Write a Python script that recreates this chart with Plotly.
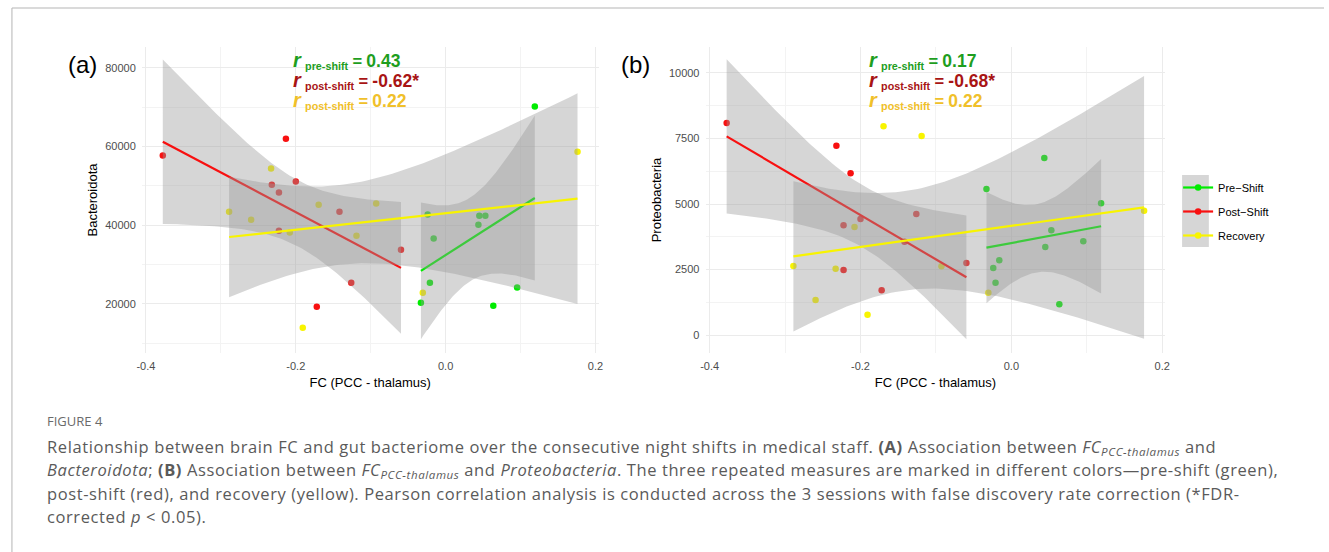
import numpy as np
import plotly.graph_objects as go

W, H = 1329, 552

# ---------------- data ----------------
groups = ["Pre−Shift", "Post−Shift", "Recovery"]
colors = ["#00EC00", "#F81010", "#F8F400"]
label_colors = ["#1E9E1E", "#A81414", "#F0C02A"]
r_names = ["pre-shift", "post-shift", "post-shift"]

# FC (PCC - thalamus): same subjects in both panels
fc_pre = [-0.033, -0.024, -0.021, -0.016, 0.0437, 0.045, 0.053, 0.0636, 0.0954, 0.119]
fc_post = [-0.3775, -0.2132, -0.232, -0.2225, -0.200, -0.1417, -0.2225, -0.172, -0.126, -0.0596]
fc_rec = [-0.289, -0.2596, -0.233, -0.208, -0.1907, -0.1695, -0.119, -0.0927, -0.0305, 0.176]

# panel (a): Bacteroidota
bact_pre = [20250, 42700, 25350, 36600, 40100, 42400, 42400, 19500, 24100, 70200]
bact_post = [57700, 62000, 50300, 48300, 51100, 43400, 38600, 19200, 25350, 33760]
bact_rec = [43400, 41400, 54400, 38100, 13880, 45200, 37300, 45500, 22800, 58700]

# panel (b): Proteobacteria
prot_pre = [5573, 2557, 1996, 2851, 6756, 3359, 3996, 1172, 3576, 5027]
prot_post = [8092, 6172, 7226, 4187, 4428, 3561, 2481, 1706, 4618, 2748]
prot_rec = [2634, 1336, 2531, 4122, 775, 7966, 7596, 2622, 1615, 4745]

r_values_a = ["0.43", "-0.62*", "0.22"]
r_values_b = ["0.17", "-0.68*", "0.22"]

x_ticks = [-0.4, -0.2, 0.0, 0.2]
x_ticktext = ["-0.4", "-0.2", "0.0", "0.2"]
x_minor = [-0.3, -0.1, 0.1]
ya_ticks = [20000, 40000, 60000, 80000]
ya_ticktext = ["20000", "40000", "60000", "80000"]
ya_minor = [10000, 30000, 50000, 70000]
yb_ticks = [0, 2500, 5000, 7500, 10000]
yb_ticktext = ["0", "2500", "5000", "7500", "10000"]
yb_minor = [1250, 3750, 6250, 8750]

# two-sided 95% t quantiles by degrees of freedom
T975 = {6: 2.446912, 7: 2.364624, 8: 2.306004, 9: 2.262157, 10: 2.228139}

FONT = "Liberation Sans, Arial, Helvetica, sans-serif"
CAP_FONT = "Open Sans, Lato, sans-serif"


def fx(px):
    return px / W


def fy(py):
    return 1 - py / H


def lm_band(x, y, npts=80):
    x = np.asarray(x, float)
    y = np.asarray(y, float)
    n = len(x)
    mx, my = x.mean(), y.mean()
    sxx = ((x - mx) ** 2).sum()
    b = ((x - mx) * (y - my)).sum() / sxx
    a = my - b * mx
    resid = y - (a + b * x)
    s = np.sqrt((resid ** 2).sum() / (n - 2))
    xs = np.linspace(x.min(), x.max(), npts)
    yhat = a + b * xs
    se = s * np.sqrt(1.0 / n + (xs - mx) ** 2 / sxx)
    t = T975[n - 2]
    return xs, yhat, yhat - t * se, yhat + t * se


fig = go.Figure()

panels = [
    ("x", "y", [fc_pre, fc_post, fc_rec], [bact_pre, bact_post, bact_rec]),
    ("x2", "y2", [fc_pre, fc_post, fc_rec], [prot_pre, prot_post, prot_rec]),
]

for xa, ya, xs_list, ys_list in panels:
    # points first (ribbons drawn over them, as in ggplot)
    for g, (xv, yv) in enumerate(zip(xs_list, ys_list)):
        fig.add_trace(go.Scatter(x=xv, y=yv, mode="markers", xaxis=xa, yaxis=ya,
                                 marker=dict(color=colors[g], size=6.5),
                                 showlegend=False, hoverinfo="x+y"))
    for g, (xv, yv) in enumerate(zip(xs_list, ys_list)):
        xs, yhat, lo, hi = lm_band(xv, yv)
        fig.add_trace(go.Scatter(x=np.concatenate([xs, xs[::-1]]),
                                 y=np.concatenate([hi, lo[::-1]]),
                                 mode="lines", fill="toself",
                                 fillcolor="rgba(153,153,153,0.4)",
                                 line=dict(width=0), xaxis=xa, yaxis=ya,
                                 showlegend=False, hoverinfo="skip"))
        fig.add_trace(go.Scatter(x=xs, y=yhat, mode="lines", xaxis=xa, yaxis=ya,
                                 line=dict(color=colors[g], width=2.2),
                                 showlegend=False, hoverinfo="skip"))

# legend-only entries
for g in range(3):
    fig.add_trace(go.Scatter(x=[None], y=[None], mode="lines+markers", name=groups[g],
                             legendgroup=groups[g],
                             line=dict(color=colors[g], width=2.2),
                             marker=dict(color=colors[g], size=6.5)))

axis_common = dict(showgrid=True, gridcolor="#EBEBEB", gridwidth=1, zeroline=False,
                   showline=False, ticks="outside", ticklen=3, tickcolor="rgba(0,0,0,0)",
                   tickfont=dict(family=FONT, size=11, color="#4D4D4D"))
minor_common = dict(showgrid=True, gridcolor="#F3F3F3", gridwidth=0.7)
title_font = dict(family=FONT, size=13, color="black")

fig.update_layout(
    width=W, height=H, margin=dict(l=0, r=0, t=0, b=0),
    paper_bgcolor="white", plot_bgcolor="white",
    showlegend=True,
    xaxis=dict(domain=[fx(138), fx(598)], range=[-0.4053, 0.204], anchor="y",
               tickvals=x_ticks, ticktext=x_ticktext,
               minor=dict(tickvals=x_minor, **minor_common),
               title=dict(text="FC (PCC - thalamus)", standoff=6, font=title_font),
               **axis_common),
    yaxis=dict(domain=[fy(353), fy(47)], range=[7460, 85340], anchor="x",
               tickvals=ya_ticks, ticktext=ya_ticktext,
               minor=dict(tickvals=ya_minor, **minor_common),
               title=dict(text="Bacteroidota", standoff=4, font=title_font),
               **axis_common),
    xaxis2=dict(domain=[fx(706), fx(1169)], range=[-0.4053, 0.204], anchor="y2",
                tickvals=x_ticks, ticktext=x_ticktext,
                minor=dict(tickvals=x_minor, **minor_common),
                title=dict(text="FC (PCC - thalamus)", standoff=6, font=title_font),
                **axis_common),
    yaxis2=dict(domain=[fy(353), fy(47)], range=[-687, 10992], anchor="x2",
                tickvals=yb_ticks, ticktext=yb_ticktext,
                minor=dict(tickvals=yb_minor, **minor_common),
                title=dict(text="Proteobacteria", standoff=4, font=title_font),
                **axis_common),
    legend=dict(x=fx(1182), y=fy(173), xanchor="left", yanchor="top",
                bgcolor="rgba(0,0,0,0)", font=dict(family=FONT, size=11, color="black"),
                tracegroupgap=5, itemwidth=30, traceorder="grouped"),
)

annotations = []
# panel letters
for lbl, px in [("(a)", 78), ("(b)", 635)]:
    annotations.append(dict(x=fx(px), y=fy(65), xref="paper", yref="paper", text=lbl,
                            xanchor="center", yanchor="middle", showarrow=False,
                            font=dict(family=FONT, size=24, color="black")))

# correlation labels: one three-line block per panel
for left, vals in [(288, r_values_a), (869, r_values_b)]:
    lines = []
    for i, v in enumerate(vals):
        lines.append(f"<span style='color:{label_colors[i]}'><b>"
                     f"<i><span style='font-size:20px'>r</span></i>"
                     f" <sub>{r_names[i]}</sub>"
                     f" <span style='font-size:16.5px'>=</span>"
                     f" <span style='font-size:17.5px'>{v}</span></b></span>")
    annotations.append(dict(x=fx(left), y=fy(81), xref="paper", yref="paper",
                            xanchor="left", yanchor="middle", align="left",
                            text="<br>".join(lines), showarrow=False,
                            font=dict(family=FONT, size=15.4, color=label_colors[0])))

# caption
annotations.append(dict(x=fx(40), y=fy(421), xref="paper", yref="paper", xanchor="left",
                        yanchor="middle", text="FIGURE 4", showarrow=False,
                        font=dict(family=CAP_FONT, size=13, color="#6A6A6A")))
cap_lines = [
    "Relationship between brain FC and gut bacteriome over the consecutive night shifts in medical staff. "
    "<b>(A)</b> Association between <i>FC<sub>PCC-thalamus</sub></i> and",
    "<i>Bacteroidota</i>; <b>(B)</b> Association between <i>FC<sub>PCC-thalamus</sub></i> and "
    "<i>Proteobacteria</i>. The three repeated measures are marked in different colors—pre-shift (green),",
    "post-shift (red), and recovery (yellow). Pearson correlation analysis is conducted across the 3 sessions "
    "with false discovery rate correction (*FDR-",
    "corrected <i>p</i> &lt; 0.05).",
]
for i, line in enumerate(cap_lines):
    annotations.append(dict(x=fx(40), y=fy(447 + 23 * i), xref="paper", yref="paper",
                            xanchor="left", yanchor="middle",
                            text=f"<span style='letter-spacing:0.6px'>{line}</span>",
                            showarrow=False,
                            font=dict(family=CAP_FONT, size=16.5, color="#5A5A5A")))

fig.update_layout(annotations=annotations)

# frame and legend key background
shapes = [
    dict(type="line", xref="paper", yref="paper", x0=fx(7), x1=fx(7), y0=0, y1=fy(8),
         line=dict(color="#B5B5B5", width=1)),
    dict(type="line", xref="paper", yref="paper", x0=fx(7), x1=1, y0=fy(8), y1=fy(8),
         line=dict(color="#B5B5B5", width=1)),
    dict(type="rect", xref="paper", yref="paper", x0=fx(1186), x1=fx(1213),
         y0=fy(247), y1=fy(175), fillcolor="rgba(153,153,153,0.4)", line=dict(width=0),
         layer="below"),
]
fig.update_layout(shapes=shapes)

fig.write_html("out.html", config={"displayModeBar": False},
               post_script="document.body.style.margin='0';document.body.style.overflow='hidden';")
